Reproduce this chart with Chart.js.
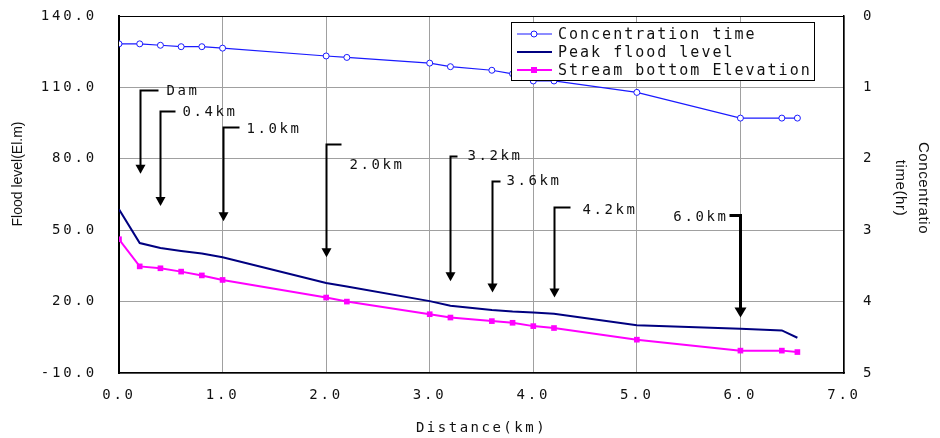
<!DOCTYPE html>
<html>
<head>
<meta charset="utf-8">
<script src="https://cdn.jsdelivr.net/npm/chart.js@4/dist/chart.umd.min.js"></script>
<style>
    html, body { margin: 0; padding: 0; background: #fff; }
    #box { width: 940px; height: 438px; }
</style>
</head>
<body>
<div id="box"><canvas id="floodChart"></canvas></div>
<script>
// Values
const distKm    = [0, 0.2, 0.4, 0.6, 0.8, 1.0, 2.0, 2.2, 3.0, 3.2, 3.6, 3.8, 4.0, 4.2, 5.0, 6.0, 6.4, 6.55];
const concTime  = [0.39, 0.39, 0.41, 0.43, 0.43, 0.45, 0.56, 0.58, 0.66, 0.71, 0.76, 0.81, 0.91, 0.91, 1.07, 1.43, 1.43, 1.43];
const peakLevel = [58.8, 44.6, 42.5, 41.3, 40.2, 38.6, 27.8, 26.3, 20.2, 18.3, 16.5, 15.8, 15.4, 14.9, 10.1, 8.6, 7.9, 4.8];
const bedLevel  = [46.2, 34.8, 34.0, 32.6, 31.0, 29.1, 21.7, 20.0, 14.7, 13.3, 11.8, 11.1, 9.7, 8.9, 4.0, -0.6, -0.6, -1.2];

// Tick labels
const distTicks  = [0, 1, 2, 3, 4, 5, 6, 7];
const levelTicks = [-10, 20, 50, 80, 110, 140];
const timeTicks  = [0, 1, 2, 3, 4, 5];

// Station arrows: distance, top of the hook and tip of the arrow (flood level units)
const annLabel = ['Dam', '0.4km', '1.0km', '2.0km', '3.2km', '3.6km', '4.2km', '6.0km'];
const annKm    = [0.2, 0.4, 1.0, 2.0, 3.2, 3.6, 4.2, 6.0];
const annTop   = [108.7, 99.9, 93.5, 86.3, 81.3, 70.7, 59.7, 56.4];
const annTip   = [73.7, 60.2, 53.8, 38.6, 28.5, 23.8, 21.7, 13.3];

// hook length, label offset and line weight for each arrow (pixels)
const annStyle = [
    { hook: 18, dx: 8, dy: 1, lw: 2 },
    { hook: 15, dx: 7, dy: 1, lw: 2 },
    { hook: 16, dx: 7, dy: 2, lw: 2 },
    { hook: 15, dx: 8, dy: 21, lw: 2 },
    { hook: 7, dx: 10, dy: 0, lw: 2 },
    { hook: 8, dx: 6, dy: 0, lw: 2 },
    { hook: 16, dx: 12, dy: 3, lw: 2 },
    { hook: -11, dx: -1, dy: 2, lw: 3 }
];

const MONO = '"DejaVu Sans Mono", "Liberation Mono", monospace';
const SANS = '"Liberation Sans", Arial, sans-serif';

function toPoints(xs, ys) {
    return xs.map((x, i) => ({ x: x, y: ys[i] }));
}

function drawArrow(ctx, x, yTop, yTip, st) {
    const head = st.lw > 2 ? 12 : 10;
    const headLen = st.lw > 2 ? 10 : 9;
    ctx.strokeStyle = '#000';
    ctx.fillStyle = '#000';
    ctx.lineWidth = st.lw;
    ctx.beginPath();
    ctx.moveTo(x + st.hook, yTop);
    ctx.lineTo(x, yTop);
    ctx.lineTo(x, yTip - headLen + 1);
    ctx.stroke();
    ctx.beginPath();
    ctx.moveTo(x - head / 2, yTip - headLen);
    ctx.lineTo(x + head / 2, yTip - headLen);
    ctx.lineTo(x, yTip);
    ctx.closePath();
    ctx.fill();
}

// Draws the arrows, the boxed legend and the axis titles
const extrasPlugin = {
    id: 'extras',
    beforeDraw(chart) {
        chart.ctx.letterSpacing = '2.8px';
    },
    afterDraw(chart) {
        const ctx = chart.ctx;
        const xs = chart.scales.x;
        const ys = chart.scales.y;
        ctx.save();

        // station arrows
        ctx.font = '14px ' + MONO;
        ctx.letterSpacing = '2.6px';
        ctx.textBaseline = 'middle';
        annKm.forEach((km, i) => {
            const st = annStyle[i];
            const x = Math.round(xs.getPixelForValue(km)) + 0.5;
            const yTop = Math.round(ys.getPixelForValue(annTop[i])) + 0.5;
            const yTip = ys.getPixelForValue(annTip[i]);
            drawArrow(ctx, x, yTop, yTip, st);
            ctx.textAlign = st.hook < 0 ? 'right' : 'left';
            ctx.fillStyle = '#111';
            ctx.fillText(annLabel[i], x + st.hook + st.dx, yTop + st.dy);
        });

        // legend box
        const lx = 511, ly = 22, lw = 303, lh = 58;
        ctx.fillStyle = '#fff';
        ctx.fillRect(lx, ly, lw, lh);
        ctx.strokeStyle = '#000';
        ctx.lineWidth = 1;
        ctx.strokeRect(lx + 0.5, ly + 0.5, lw, lh);
        ctx.font = '15px ' + MONO;
        ctx.letterSpacing = '2px';
        ctx.textAlign = 'left';
        chart.data.datasets.forEach((ds, i) => {
            const y = ly + 12 + i * 18;
            ctx.strokeStyle = ds.borderColor;
            ctx.lineWidth = ds.borderWidth;
            ctx.beginPath();
            ctx.moveTo(lx + 6, y);
            ctx.lineTo(lx + 41, y);
            ctx.stroke();
            if (ds.pointStyle === 'circle') {
                ctx.fillStyle = '#fff';
                ctx.lineWidth = 1;
                ctx.beginPath();
                ctx.arc(lx + 23, y, 3, 0, Math.PI * 2);
                ctx.fill();
                ctx.stroke();
            } else if (ds.pointStyle === 'rect') {
                ctx.fillStyle = ds.borderColor;
                ctx.fillRect(lx + 20, y - 3, 6, 6);
            }
            ctx.fillStyle = '#111';
            ctx.fillText(ds.label, lx + 47, y + 1);
        });

        // axis titles
        ctx.fillStyle = '#111';
        ctx.textAlign = 'center';
        ctx.font = '14px ' + MONO;
        ctx.letterSpacing = '2.5px';
        ctx.fillText('Distance(km)', (chart.chartArea.left + chart.chartArea.right) / 2, 428);

        ctx.font = '14px ' + SANS;
        ctx.letterSpacing = '0px';
        ctx.save();
        ctx.translate(18, 174);
        ctx.rotate(-Math.PI / 2);
        ctx.fillText('Flood level(El.m)', 0, 0);
        ctx.restore();

        ctx.font = '15px ' + SANS;
        ctx.letterSpacing = '0.6px';
        ctx.save();
        ctx.translate(923, 188);
        ctx.rotate(Math.PI / 2);
        ctx.fillText('Concentratio', 0, 0);
        ctx.fillText('time(hr)', 0, 23);
        ctx.restore();

        ctx.restore();
    }
};

function setTicks(values) {
    return function(scale) {
        scale.ticks = values.map(v => ({ value: v }));
    };
}

// fixed box sizes so the plot area lands where it is in the picture
function fixWidth(w) {
    return function(s) {
        s.width = w;
        s.paddingTop = 0;
        s.paddingBottom = 0;
    };
}

function createChart() {
    const ctx = document.getElementById('floodChart').getContext('2d');
    new Chart(ctx, {
        type: 'line',
        data: {
            datasets: [{
                label: 'Concentration time',
                data: toPoints(distKm, concTime),
                yAxisID: 'y2',
                borderColor: '#1a1aff',
                borderWidth: 1.2,
                pointStyle: 'circle',
                pointRadius: 3,
                pointBackgroundColor: '#fff',
                pointBorderColor: '#1a1aff',
                pointBorderWidth: 1
            }, {
                label: 'Peak flood level',
                data: toPoints(distKm, peakLevel),
                yAxisID: 'y',
                borderColor: '#000080',
                borderWidth: 2,
                pointRadius: 0
            }, {
                label: 'Stream bottom Elevation',
                data: toPoints(distKm, bedLevel),
                yAxisID: 'y',
                borderColor: '#ff00ff',
                borderWidth: 2,
                pointStyle: 'rect',
                pointRadius: 4,
                pointBackgroundColor: '#ff00ff',
                pointBorderColor: '#ff00ff',
                pointBorderWidth: 0
            }]
        },
        options: {
            responsive: true,
            maintainAspectRatio: false,
            animation: false,
            layout: { padding: { top: 16, left: 0, right: 0, bottom: 0 } },
            plugins: {
                legend: { display: false },
                tooltip: { enabled: false }
            },
            elements: { line: { tension: 0 } },
            scales: {
                x: {
                    type: 'linear',
                    min: 0,
                    max: 7,
                    afterBuildTicks: setTicks(distTicks),
                    afterFit: s => { s.height = 65; s.paddingLeft = 0; s.paddingRight = 0; },
                    grid: { color: '#a0a0a0', lineWidth: 1, drawTicks: false },
                    border: { color: '#000', width: 1.5 },
                    ticks: {
                        padding: 14,
                        color: '#111',
                        font: { family: MONO, size: 14 },
                        callback: v => v.toFixed(1)
                    }
                },
                y: {
                    position: 'left',
                    min: -10,
                    max: 140,
                    afterBuildTicks: setTicks(levelTicks),
                    afterFit: fixWidth(119),
                    grid: {
                        color: c => (c.tick && c.tick.value === 140) ? '#000' : '#a0a0a0',
                        lineWidth: 1,
                        drawTicks: false
                    },
                    border: { color: '#000', width: 2 },
                    ticks: {
                        padding: 22,
                        color: '#111',
                        font: { family: MONO, size: 14 },
                        callback: v => v.toFixed(1)
                    }
                },
                y2: {
                    position: 'right',
                    reverse: true,
                    min: 0,
                    max: 5,
                    afterBuildTicks: setTicks(timeTicks),
                    afterFit: fixWidth(96),
                    grid: { display: false, drawTicks: false },
                    border: { color: '#000', width: 1.5 },
                    ticks: {
                        padding: 19,
                        color: '#111',
                        font: { family: MONO, size: 14 },
                        callback: v => String(v)
                    }
                }
            }
        },
        plugins: [extrasPlugin]
    });
}

createChart();
</script>
</body>
</html>
